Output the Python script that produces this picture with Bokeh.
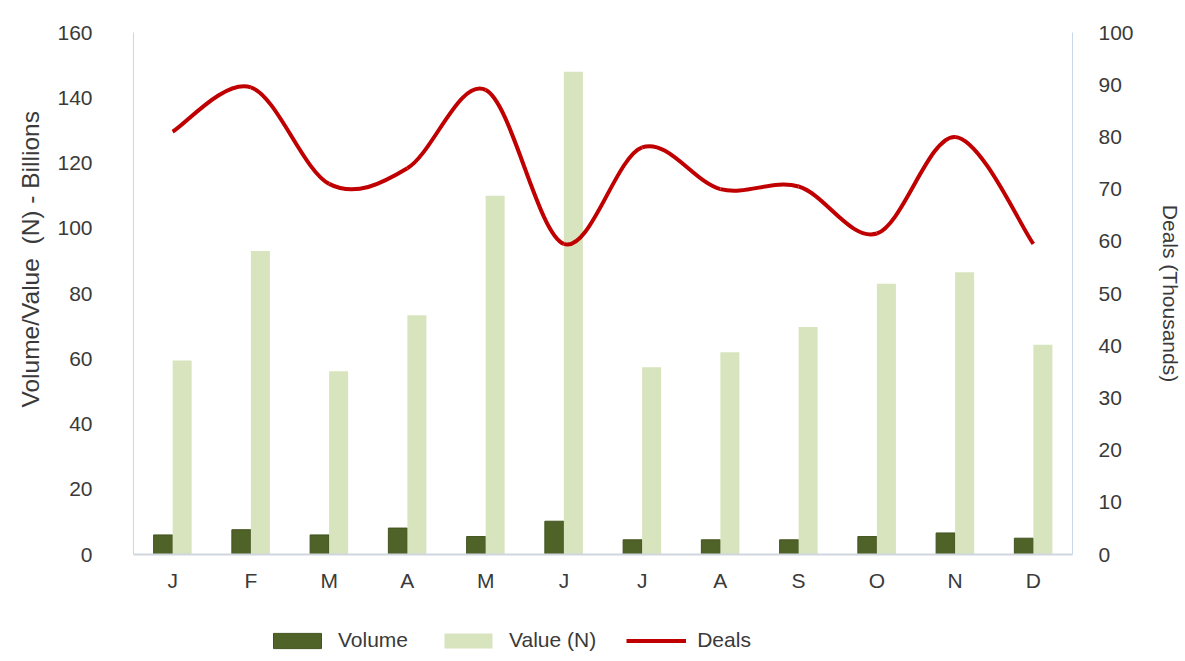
from bokeh.embed import file_html
from bokeh.layouts import column
from bokeh.models import (FixedTicker, Legend, LegendItem, LinearAxis, Range1d,
                          Title)
from bokeh.plotting import figure
from bokeh.resources import INLINE

# Monthly figures
months = ["J", "F", "M", "A", "M", "J", "J", "A", "S", "O", "N", "D"]
volume = [6.0, 7.6, 6.0, 8.1, 5.5, 10.2, 4.5, 4.5, 4.5, 5.5, 6.6, 5.0]
value_n = [59.5, 93.0, 56.2, 73.3, 110.0, 148.0, 57.4, 62.0, 69.7, 83.0, 86.5, 64.3]
deals = [81.0, 89.5, 71.0, 74.0, 89.0, 59.5, 78.0, 70.0, 70.5, 61.5, 80.0, 59.5]

left_ticks = [0, 20, 40, 60, 80, 100, 120, 140, 160]
right_ticks = [0, 10, 20, 30, 40, 50, 60, 70, 80, 90, 100]

FONT = "Liberation Sans"
TEXT = "#3a3a3a"
DARK = "#4F6228"
DARK_EDGE = "#435420"
LIGHT = "#D7E4BD"
RED = "#C00000"
FRAME = "#C9D7EA"

n = len(months)
centers = [i + 0.5 for i in range(n)]
bw = 0.243
vol_x = [c - bw / 2 for c in centers]
val_x = [c + bw / 2 for c in centers]

p = figure(width=1185, height=610, output_backend="svg", toolbar_location=None,
           x_range=Range1d(0, n), y_range=Range1d(0, 160),
           min_border_left=133, min_border_right=113,
           min_border_top=32, min_border_bottom=56)
p.extra_y_ranges = {"deals": Range1d(0, 100)}
p.outline_line_color = None
p.grid.grid_line_color = None
p.background_fill_color = "white"
p.border_fill_color = "white"

p.vbar(x=vol_x, top=volume, width=bw,
       fill_color=DARK, line_color=DARK_EDGE, line_width=1)
p.vbar(x=val_x, top=value_n, width=bw,
       fill_color=LIGHT, line_color=None)

# Smoothed deals curve: cubic Bezier segments through each month's point
xs, ys = centers, deals
x0, y0, x1, y1, cx0, cy0, cx1, cy1 = ([] for _ in range(8))
for i in range(n - 1):
    pxm, pym = (xs[i - 1], ys[i - 1]) if i > 0 else (xs[i], ys[i])
    pxp, pyp = (xs[i + 2], ys[i + 2]) if i + 2 < n else (xs[i + 1], ys[i + 1])
    x0.append(xs[i]); y0.append(ys[i])
    x1.append(xs[i + 1]); y1.append(ys[i + 1])
    cx0.append(xs[i] + (xs[i + 1] - pxm) / 6)
    cy0.append(ys[i] + (ys[i + 1] - pym) / 6)
    cx1.append(xs[i + 1] - (pxp - xs[i]) / 6)
    cy1.append(ys[i + 1] - (pyp - ys[i]) / 6)
p.bezier(x0=x0, y0=y0, x1=x1, y1=y1, cx0=cx0, cy0=cy0, cx1=cx1, cy1=cy1,
         line_color=RED, line_width=4, y_range_name="deals")

# x axis
xa = p.xaxis[0]
xa.ticker = FixedTicker(ticks=centers)
xa.major_label_overrides = {c: m for c, m in zip(centers, months)}
xa.axis_line_color = "#D0D6DE"
xa.axis_line_width = 2
xa.major_tick_line_color = None
xa.minor_tick_line_color = None
xa.major_label_text_font = FONT
xa.major_label_text_font_size = "21px"
xa.major_label_text_color = TEXT
xa.major_label_standoff = 8

# left axis
ya = p.yaxis[0]
ya.ticker = FixedTicker(ticks=left_ticks)
ya.axis_line_color = FRAME
ya.major_tick_line_color = None
ya.minor_tick_line_color = None
ya.major_label_text_font = FONT
ya.major_label_text_font_size = "21px"
ya.major_label_text_color = TEXT
ya.major_label_standoff = 35

# right axis
ra = LinearAxis(y_range_name="deals", ticker=FixedTicker(ticks=right_ticks),
                axis_label="Deals (Thousands)")
ra.axis_line_color = FRAME
ra.major_tick_line_color = None
ra.minor_tick_line_color = None
ra.major_label_text_font = FONT
ra.major_label_text_font_size = "21px"
ra.major_label_text_color = TEXT
ra.major_label_standoff = 20
ra.axis_label_text_font = FONT
ra.axis_label_text_font_size = "21px"
ra.axis_label_text_font_style = "normal"
ra.axis_label_text_color = TEXT
ra.axis_label_standoff = 22
p.add_layout(ra, "right")

# left axis title, starting part-way up the frame
p.add_layout(Title(text="Volume/Value\u00a0 (N) - Billions", align="left", offset=147,
                   standoff=22, text_font=FONT, text_font_size="24.5px",
                   text_font_style="normal", text_color=TEXT), "left")

# Legend strip under the chart; its hidden key glyphs carry the series data
key = figure(width=1185, height=51, output_backend="svg", toolbar_location=None,
             x_axis_location=None, y_axis_location=None,
             min_border=0, x_range=Range1d(0, n), y_range=Range1d(0, 160))
key.outline_line_color = None
key.grid.grid_line_color = None
k_vol = key.vbar(x=vol_x, top=volume, width=bw, fill_color=DARK,
                 line_color=DARK_EDGE, visible=False)
k_val = key.vbar(x=val_x, top=value_n, width=bw, fill_color=LIGHT,
                 line_color=None, visible=False)
k_deal = key.line(x=centers, y=deals, line_color=RED, line_width=4, visible=False)

legend = Legend(items=[LegendItem(label="Volume", renderers=[k_vol]),
                       LegendItem(label="Value (N)", renderers=[k_val]),
                       LegendItem(label="Deals", renderers=[k_deal])],
                orientation="horizontal", location=(134, 9),
                glyph_width=60, glyph_height=19, label_standoff=11, spacing=30,
                padding=0, margin=0, border_line_color=None,
                background_fill_alpha=0,
                label_text_font=FONT, label_text_font_size="21px",
                label_text_color=TEXT)
key.add_layout(legend, "center")

layout = column(p, key, spacing=0)
open("out.html", "w").write(file_html(layout, INLINE))
